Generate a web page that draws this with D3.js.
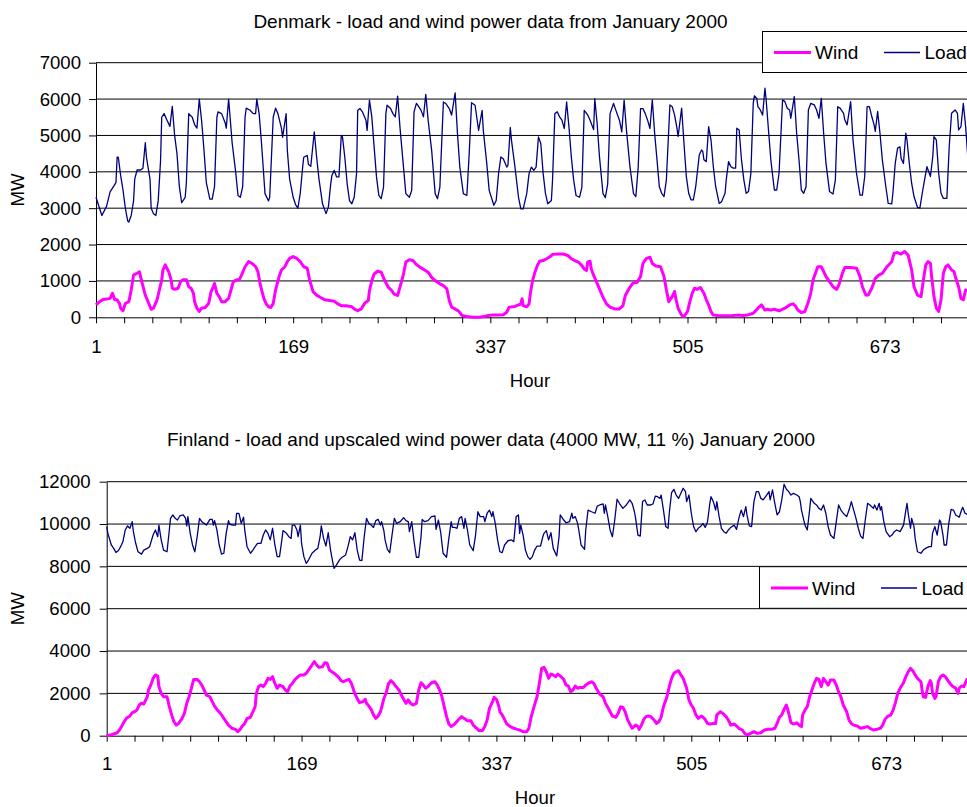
<!DOCTYPE html>
<html><head><meta charset="utf-8">
<script src="https://cdn.jsdelivr.net/npm/d3@7/dist/d3.min.js"></script>
<style>html,body{margin:0;padding:0;background:#fff;}svg{display:block;}</style>
</head><body><svg id="c" width="967" height="807"></svg>
<script>
const dkTitle = "Denmark - load and wind power data from January 2000";
const fiTitle = "Finland - load and upscaled wind power data (4000 MW, 11 %) January 2000";
const xTickLabels = [1, 169, 337, 505, 673];
const dkYTicks = [0,1000,2000,3000,4000,5000,6000,7000];
const fiYTicks = [0,2000,4000,6000,8000,10000,12000];
const seriesNames = ["Wind", "Load"];

const dkLoad = [[1,3300],[6,2800],[10,3050],[13,3450],[16,3600],[18,3700],[19,4400],[20,4400],[22,3900],[24,3500],[26,3000],[28,2650],[29,2620],[31,2800],[33,3200],[34,3800],[36,4050],[39,4050],[41,4100],[43,4800],[44,4400],[47,3800],[48,3000],[50,2850],[52,2800],[54,3200],[56,4300],[57,5500],[59,5600],[61,5450],[64,5250],[66,5800],[68,5000],[70,4500],[72,3600],[74,3150],[77,3300],[78,3700],[80,5600],[83,5500],[85,5300],[87,5200],[89,6000],[91,5400],[93,4600],[95,3700],[98,3250],[100,3250],[102,3600],[104,5500],[105,5650],[108,5600],[111,5350],[112,5200],[114,6000],[117,4800],[120,4000],[122,3350],[124,3300],[126,3600],[128,5500],[129,5750],[132,5700],[135,5600],[137,5600],[138,6000],[140,5600],[142,4800],[145,3400],[148,3200],[149,3300],[152,5500],[154,5750],[156,5600],[159,5200],[160,4950],[163,5600],[164,4600],[166,3800],[169,3300],[171,3100],[173,3000],[175,3400],[177,4100],[178,4400],[181,4450],[182,4200],[184,4150],[187,5100],[189,4400],[191,3800],
[194,3120],[197,2850],[199,3030],[201,3670],[202,3900],[204,4040],[206,3860],[208,3860],[210,5000],[211,4960],[213,4400],[215,3670],[217,3210],[219,3120],[221,3300],[223,3950],[224,5690],[226,5740],[228,5650],[231,5420],[232,5140],[234,5970],[236,5510],[238,4680],[240,3860],[242,3350],[244,3260],[246,3580],[248,5600],[249,5830],[252,5740],[254,5600],[256,5510],[258,6080],[260,5230],[263,4130],[265,3400],[268,3300],[270,3490],[272,5650],[274,5880],[276,5790],[278,5690],[280,5510],[282,6130],[284,5420],[287,4590],[290,3400],[292,3260],[294,3580],[297,5920],[299,5880],[302,5740],[304,5560],[307,6170],[309,5050],[311,4130],[314,3400],[317,3350],[319,4500],[321,5900],[324,5830],[326,5370],[327,5140],[330,5690],[331,5140],[334,4220],[336,3490],[340,3080],[342,3210],[344,3950],[346,4410],[348,4360],[351,4130],[352,4180],[354,5220],[355,4870],[358,4130],[361,3300],[363,2980],[365,2980],[368,3400],[370,3950],[372,4130],[374,4040],[376,4130],[378,4960],[380,4780],[382,3950],[384,3400],[386,3120],[389,3210],[390,3770],[392,5600],[394,5650],[396,5510],[398,5420],[400,5190],[402,5920],[404,5230],[406,4410],[408,3770],[410,3350],[413,3300],[415,3580],[417,5690],[418,5650],[420,5560],[422,5420],[425,5160],[426,6010],[428,5330],[430,4410],[433,3400],[435,3290],[437,3670],[439,5600],[442,5880],[444,5690],[447,5420],[449,5100],[451,5970],[453,5140],[456,4130],[459,3400],[461,3320],[463,4130],[465,5740],[467,5740],[469,5600],[471,5420],[473,5190],
[475,5980],[477,5060],[479,4330],[481,3590],[483,3410],[485,3320],[487,3780],[490,5840],[492,5790],[494,5560],[496,5200],[497,4970],[500,5750],[502,4780],[504,3870],[506,3410],[508,3230],[510,3230],[512,3590],[515,4460],[517,4600],[518,4560],[519,4330],[521,4280],[523,5240],[525,4880],[527,4140],[529,3590],[532,3130],[534,3180],[537,3410],[538,3780],[540,4280],[542,4140],[544,4100],[546,4100],[547,5200],[549,5150],[551,4330],[553,3780],[555,3410],[557,3460],[559,3960],[561,5880],[562,6090],[564,6020],[565,5790],[567,5700],[569,5560],[571,6300],[572,5980],[574,5150],[576,4330],[579,3500],[581,3500],[583,3960],[586,5980],[588,5930],[590,5750],[592,5700],[593,5470],[596,6070],[598,5060],[600,4330],[602,3500],[604,3410],[606,3590],[608,5700],[610,5880],[613,5840],[615,5700],[617,5470],[619,6020],[621,5060],[623,4230],[626,3460],[629,3390],[631,3780],[633,5790],[635,5750],[638,5610],[639,5430],[641,5290],[644,5930],[646,4880],[649,3960],[652,3360],[654,3360],[656,3870],[658,5790],[660,5790],[662,5520],[664,5290],[665,5110],[667,5660],[669,5060],[671,4330],[674,3590],[676,3130],[679,3120],[680,3410],[682,4230],[684,4650],[686,4690],[687,4370],[689,4230],[691,5060],[692,4880],[694,4230],[696,3680],[698,3320],[701,3020],[703,3000],[705,3410],[707,3780],[709,4140],[710,4050],[712,3870],[714,4420],[715,4970],[717,4880],[719,3960],[721,3410],[723,3270],[726,3270],[728,4690],[730,5610],[733,5700],[735,5610],[736,5150],[738,5240],[740,5880],[742,5240],[744,4330]];

const dkWind = [[1,340],[4,430],[7,490],[10,500],[13,520],[15,660],[17,480],[19,480],[21,380],[22,250],[24,180],[26,380],[29,430],[31,750],[33,1160],[36,1210],[38,1250],[40,980],[43,610],[46,380],[48,220],[50,250],[53,480],[55,750],[57,1030],[58,1300],[60,1440],[63,1250],[65,1030],[66,800],[68,770],[71,800],[73,980],[75,1030],[78,1030],[80,840],[82,800],[84,660],[85,430],[87,250],[89,160],[91,250],[94,270],[97,380],[99,700],[101,840],[102,930],[104,660],[106,570],[108,430],[111,430],[114,520],[116,750],[118,980],[121,1030],[123,1030],[125,1160],[128,1390],[131,1530],[134,1480],[137,1390],[139,1250],[141,890],[144,520],[146,370],[148,290],[150,270],[152,380],[154,750],[157,1120],[159,1300],[162,1390],[164,1530],[166,1620],[169,1670],[172,1620],[175,1530],[178,1390],[181,1350],[183,1030],[186,700],[189,610],[192,550],
[196,480],[200,460],[204,440],[207,370],[210,320],[214,320],[219,290],[221,230],[224,180],[227,230],[230,390],[233,460],[234,730],[236,1010],[238,1190],[241,1270],[244,1240],[247,1010],[250,830],[253,730],[255,640],[258,600],[260,830],[263,1190],[265,1520],[268,1580],[271,1560],[274,1450],[277,1380],[281,1300],[284,1240],[287,1100],[290,1010],[294,920],[297,870],[300,780],[302,460],[304,280],[307,230],[310,170],[313,50],[317,20],[322,0],[328,0],[334,40],[338,60],[342,60],[348,70],[351,140],[353,280],[358,300],[361,340],[363,370],[364,510],[365,320],[368,290],[370,370],[371,640],[373,1010],[375,1240],[377,1420],[379,1540],[382,1560],[385,1610],[388,1670],[390,1730],[395,1740],[399,1740],[403,1700],[406,1610],[409,1560],[412,1520],[415,1420],[417,1330],[419,1290],[420,1520],[422,1540],[423,1330],[425,1150],[427,1010],[430,780],[433,550],[436,370],[439,280],[443,230],[447,230],[450,320],[452,600],[455,780],[458,920],[460,960],[462,960],
[465,1120],[467,1480],[470,1620],[473,1650],[475,1480],[478,1410],[482,1390],[485,1120],[487,750],[489,430],[492,570],[494,710],[495,520],[497,250],[500,60],[502,20],[505,160],[507,430],[509,660],[511,800],[513,770],[516,820],[519,660],[521,480],[523,340],[525,160],[527,60],[531,50],[537,40],[542,40],[548,60],[552,50],[556,60],[561,110],[565,250],[568,340],[571,200],[573,220],[576,200],[579,220],[583,180],[588,250],[592,340],[595,370],[597,310],[599,200],[602,130],[605,160],[608,430],[610,660],[612,1030],[614,1210],[616,1390],[619,1390],[621,1260],[623,1120],[626,980],[629,840],[632,770],[634,890],[637,1210],[639,1370],[644,1370],[649,1350],[652,1120],[654,840],[657,610],[659,610],[662,800],[665,1070],[668,1160],[671,1210],[675,1390],[679,1530],[681,1760],[684,1780],[687,1740],[690,1810],[693,1710],[696,1300],[698,840],[701,610],[704,570],[706,1030],[708,1440],[710,1530],[712,1480],[713,1120],[715,570],[717,250],[719,160],[721,480],[723,1210],[725,1390],[727,1440],[730,1300],[732,1260],[734,1030],[736,840],[738,520],[740,480],[742,750],[744,730]];

const fiLoad = [[1,9880],[2,9560],[5,9010],[7,8850],[9,8660],[11,8740],[13,8930],[15,9170],[17,9720],[19,9910],[21,9800],[23,10110],[24,9640],[26,9090],[28,8690],[31,8580],[33,8770],[36,8850],[38,8930],[41,9480],[43,9720],[45,9400],[46,9950],[48,9250],[50,8770],[53,8690],[55,9720],[56,10270],[58,10430],[60,10270],[62,10190],[64,10380],[67,10430],[69,10270],[70,9910],[71,10350],[73,9560],[75,9010],[77,8690],[79,9400],[81,10270],[83,10110],[85,10030],[87,9950],[90,10220],[92,10220],[93,9950],[94,10160],[96,9720],[98,9010],[100,8580],[102,8620],[104,9560],[106,10160],[107,9990],[110,9950],[112,9950],[113,10500],[115,10500],[117,10030],[119,10320],[120,9720],[122,8930],[125,8620],[127,8770],[129,8930],[131,9090],[134,9090],[136,9480],[138,9720],[140,9560],[142,9250],[144,9800],[146,9010],[148,8460],[150,8460],[152,9250],[153,9690],[156,9560],[158,9400],[160,9320],[161,9950],[163,9950],[165,9720],[166,9400],[168,9950],[169,9090],[171,8460],[173,8140],[175,8300],[178,8620],[181,8770],[183,8850],[185,9400],[186,9910],[188,9320],[190,8960],[192,9590],
[194,8770],[196,8170],[197,7910],[199,8060],[202,8330],[204,8430],[207,8540],[209,8930],[211,9400],[213,9250],[215,9590],[217,8770],[219,8300],[221,8270],[223,9400],[225,10270],[227,10030],[229,9950],[231,9840],[233,10160],[235,10220],[237,9950],[238,10110],[240,9670],[241,9250],[243,8800],[245,8650],[247,9480],[249,10270],[251,10030],[254,10110],[257,10300],[259,10160],[261,10110],[262,9640],[264,10110],[266,9170],[268,8430],[270,8430],[272,9400],[273,10220],[275,10110],[278,10160],[281,10350],[284,10380],[285,9750],[287,10190],[289,9590],[291,8620],[294,8430],[296,9320],[298,10110],[299,9840],[301,9840],[303,9800],[305,10270],[307,10350],[309,9800],[310,10270],[312,9720],[314,9010],[317,8740],[319,9480],[321,10580],[323,10350],[326,10350],[327,10110],[329,10510],[331,10660],[333,10350],[334,10580],[336,10030],[338,9250],[340,8690],[342,8650],[344,9010],[347,9210],[350,9250],[352,9170],[354,10350],[356,10430],[357,9560],[358,9950],[360,9480],[362,8770],[364,8460],[366,8330],[368,8460],[370,8770],[372,8960],[375,8960],[377,9400],[378,9560],[380,9690],[382,9250],[384,9590],[386,8850],[389,8490],[391,9400],[392,10430],[395,10190],[397,10060],[400,10110],[402,10510],[403,10270],[405,10350],[407,10030],[408,9720],[410,9010],[413,8800],[414,9720],[416,10660],[419,10580],[422,10510],[424,10850],[426,10900],[429,10950],[430,10510],[431,10900],[433,10350],[435,9720],[437,9400],[439,10190],[441,11170],[443,10980],[446,10740],[449,10900],[452,11140],[454,10980],[456,10580],[457,10270],[459,9480],[461,9430],
[463,11060],[465,11140],[467,10900],[470,10900],[472,10950],[474,11320],[476,11290],[478,11210],[479,11370],[481,10660],[483,9880],[485,9800],[486,10510],[488,11480],[490,11640],[492,11370],[494,11210],[496,11450],[498,11690],[500,11530],[501,11060],[503,11370],[505,10510],[507,9880],[509,9640],[511,9800],[513,9880],[515,10030],[517,9840],[519,10110],[521,10980],[522,11290],[524,11060],[526,10660],[527,11060],[529,10350],[531,9800],[533,9640],[535,9560],[537,9720],[539,9840],[542,9950],[544,9750],[546,10270],[548,10660],[550,10350],[552,10820],[553,10430],[555,9910],[557,9880],[559,11060],[561,11530],[563,11530],[565,11210],[567,11140],[570,11370],[572,11530],[573,11140],[575,11610],[577,10980],[579,10430],[581,10580],[583,11140],[585,11880],[587,11640],[589,11530],[591,11370],[593,11450],[596,11370],[598,11290],[599,11060],[600,10660],[603,9950],[605,9720],[607,10660],[608,11210],[611,10980],[613,10900],[615,10740],[617,10660],[619,10900],[621,10510],[623,9880],[625,9480],[628,9320],[630,10110],[632,10900],[634,10660],[636,10510],[639,10350],[641,10660],[643,11060],[645,10660],[647,10270],[649,9800],[651,9430],[653,9320],[655,10190],[657,10980],[659,10900],[662,10740],[663,10900],[665,10660],[667,10980],[668,10660],[669,10820],[671,10110],[673,9640],[676,9400],[678,9480],[680,9640],[682,9720],[685,9640],[688,9950],[690,10660],[691,10980],[692,10510],[694,9800],[695,10270],[697,9880],[698,9320],[700,8690],[703,8620],[705,8770],[707,8850],[710,8930],[712,8930],[713,9560],[715,9880],[717,9480],[719,10190],[720,10110],[722,9480],[723,9010],[725,9010],[727,10030],[729,10690],[731,10660],[733,10430],[736,10320],[738,10660],[739,10790],[741,10510],[744,10430]];

const fiWind = [[1,0],[4,30],[7,80],[10,140],[12,270],[14,460],[16,660],[18,820],[21,930],[23,1090],[25,1130],[27,1210],[29,1450],[31,1530],[33,1500],[36,1840],[37,2160],[39,2390],[41,2710],[43,2870],[45,2820],[46,2320],[48,2000],[50,1840],[53,1840],[55,1370],[57,980],[59,660],[61,500],[63,580],[66,820],[68,1060],[70,1530],[72,1840],[74,2240],[76,2660],[79,2660],[81,2550],[83,2390],[85,2160],[87,1920],[90,1840],[92,1610],[94,1400],[96,1240],[99,1060],[101,900],[103,740],[106,500],[109,350],[112,300],[114,190],[116,300],[118,460],[120,580],[122,820],[125,870],[127,1130],[129,1370],[130,2000],[132,2320],[134,2390],[136,2320],[138,2470],[140,2710],[142,2660],[144,2790],[146,2470],[148,2240],[150,2390],[153,2320],[155,2160],[157,2080],[159,2350],[161,2470],[163,2630],[166,2790],[168,2870],[171,2870],[173,2950],[176,3180],[178,3340],[180,3500],[182,3340],[184,3230],[187,3260],[189,3450],[191,3420],[193,3100],
[195,3020],[198,2910],[201,2760],[203,2600],[205,2550],[207,2600],[210,2660],[212,2470],[215,1970],[217,1760],[219,1560],[222,1610],[224,1720],[225,1530],[227,1400],[229,1240],[231,980],[233,820],[235,930],[237,1130],[240,1760],[242,2030],[244,2470],[246,2600],[248,2500],[250,2350],[253,2160],[255,1920],[257,1720],[259,1530],[261,1690],[263,1530],[265,1450],[268,1530],[270,2160],[272,2500],[274,2390],[276,2240],[278,2320],[281,2500],[284,2550],[286,2390],[288,2160],[290,1840],[292,1370],[294,900],[296,550],[298,430],[301,550],[304,740],[307,900],[309,820],[312,710],[315,710],[317,500],[320,350],[322,240],[325,240],[327,430],[329,740],[331,1290],[334,1650],[335,1810],[337,1720],[339,1400],[340,1130],[342,980],[344,770],[346,550],[349,430],[352,350],[355,300],[357,270],[360,190],[363,190],[365,350],[367,900],[369,1290],[372,1840],[374,2470],[376,3180],[378,3230],[380,3020],[382,2710],[384,2910],[386,2870],[388,2790],[390,2910],[392,2820],[395,2660],[397,2390],[399,2350],[401,2080],[403,2160],[405,2350],[407,2240],[409,2280],[412,2280],[414,2390],[416,2470],[419,2550],[421,2470],[423,2240],[426,1970],[429,1840],[431,1530],[433,1340],[435,1130],[437,930],[440,870],[442,1060],[444,1370],[446,1340],[448,1130],[450,770],[452,550],[454,350],[457,500],[459,430],[460,300],[462,500],[464,770],[466,900],
[468,930],[470,900],[473,740],[475,580],[477,660],[479,870],[481,1370],[484,1840],[486,2320],[488,2710],[490,2950],[492,3020],[494,3070],[496,2870],[498,2710],[501,2240],[503,1690],[505,1450],[507,1290],[509,980],[511,820],[514,930],[517,770],[519,580],[521,550],[524,580],[526,580],[527,980],[530,1130],[532,1060],[535,900],[537,740],[539,500],[542,550],[544,460],[546,350],[549,270],[551,110],[553,30],[556,110],[559,190],[562,110],[565,140],[568,270],[571,300],[574,300],[577,350],[579,580],[581,870],[583,980],[585,1240],[587,1450],[589,1060],[591,610],[593,550],[596,610],[598,500],[600,430],[601,980],[603,1210],[605,1370],[607,1840],[609,2160],[611,2470],[613,2710],[615,2660],[617,2320],[619,2710],[621,2550],[623,2390],[625,2630],[628,2630],[630,2390],[632,2080],[634,1840],[636,1450],[639,1130],[641,740],[643,580],[645,500],[648,460],[651,350],[654,390],[657,430],[659,350],[662,270],[665,300],[668,350],[670,500],[672,770],[674,900],[677,980],[679,1210],[681,1560],[683,2000],[685,2240],[688,2500],[690,2790],[692,3020],[694,3180],[696,3070],[698,2870],[700,2710],[703,2550],[704,2160],[705,1840],[707,1810],[709,2320],[711,2600],[712,2470],[713,2000],[715,1760],[716,1840],[718,2550],[720,2790],[722,2870],[724,2790],[726,2630],[728,2470],[730,2350],[733,2240],[735,2000],[736,2240],[738,2350],[740,2320],[743,2710]];

const FONT = "'Liberation Sans', Arial, Helvetica, sans-serif";
const FS = 19;
const FS_TICK = 18.6;
const svg = d3.select("#c").style("font-family", FONT);
svg.append("rect").attr("width",967).attr("height",807).attr("fill","#fff");

function panel(cfg) {
  const x = d3.scaleLinear().domain([1, 744]).range([cfg.left, cfg.right]);
  const y = d3.scaleLinear().domain([0, cfg.yMax]).range([cfg.bottom, cfg.top]);
  const g = svg.append("g");

  // gridlines
  g.selectAll("line.grid").data(cfg.yTicks.filter(v => v > 0)).join("line")
    .attr("x1", cfg.left).attr("x2", 968)
    .attr("y1", d => y(d)).attr("y2", d => y(d))
    .attr("stroke", "#000").attr("stroke-width", 1);

  // y axis
  const yAxis = d3.axisLeft(y).tickValues(cfg.yTicks).tickSize(7).tickSizeOuter(0).tickFormat(d3.format("d"));
  const ya = g.append("g").attr("transform", `translate(${cfg.left},0)`).call(yAxis);
  ya.select(".domain").attr("stroke", "#000");
  ya.selectAll(".tick line").attr("stroke", "#000");
  ya.selectAll(".tick text").attr("font-size", FS_TICK).attr("font-family", FONT).attr("fill", "#000").attr("x", cfg.yLabelOff);

  // x axis
  const ticks24 = d3.range(1, 745, 24);
  const xAxis = d3.axisBottom(x).tickValues(ticks24).tickSize(6).tickSizeOuter(0)
    .tickFormat(d => xTickLabels.includes(d) ? String(d) : "");
  const xa = g.append("g").attr("transform", `translate(0,${cfg.bottom})`).call(xAxis);
  xa.select(".domain").attr("stroke", "#000").attr("d", `M${cfg.left},0.5H968`);
  xa.selectAll(".tick line").attr("stroke", "#000");
  xa.selectAll(".tick text").attr("font-size", FS_TICK).attr("font-family", FONT).attr("fill", "#000")
    .attr("dy", null).attr("y", cfg.xLabelBase - cfg.bottom);

  // lines
  const line = d3.line().x(d => x(d[0])).y(d => y(d[1]));
  g.append("path").datum(cfg.wind).attr("d", line).attr("fill", "none")
    .attr("stroke", "#FF00FF").attr("stroke-width", 3).attr("stroke-linejoin", "round");
  g.append("path").datum(cfg.load).attr("d", line).attr("fill", "none")
    .attr("stroke", "#000080").attr("stroke-width", 1.3).attr("stroke-linejoin", "round");

  // titles
  g.append("text").attr("x", cfg.titleX).attr("y", cfg.titleY).attr("text-anchor", "middle")
    .attr("font-size", FS).text(cfg.title);
  g.append("text").attr("x", cfg.hourX).attr("y", cfg.hourY).attr("text-anchor", "middle")
    .attr("font-size", FS_TICK).text("Hour");
  g.append("text").attr("transform", `translate(${cfg.mwX},${(cfg.top + cfg.bottom) / 2}) rotate(-90)`)
    .attr("text-anchor", "middle").attr("dy", "0.35em").attr("font-size", FS_TICK).text("MW");

  // legend
  const L = cfg.legend;
  const lg = g.append("g");
  lg.append("rect").attr("x", L.x).attr("y", L.y).attr("width", 260).attr("height", L.h)
    .attr("fill", "#fff").attr("stroke", "#000").attr("stroke-width", 1);
  const cy = L.y + L.h / 2 + 0.5;
  lg.append("line").attr("x1", L.x + 11.5).attr("x2", L.x + 48.5).attr("y1", cy).attr("y2", cy)
    .attr("stroke", "#FF00FF").attr("stroke-width", 3);
  lg.append("text").attr("x", L.x + 52.5).attr("y", cy).attr("dy", "0.36em").attr("font-size", FS).text(seriesNames[0]);
  lg.append("line").attr("x1", L.x + 121.5).attr("x2", L.x + 157.5).attr("y1", cy).attr("y2", cy)
    .attr("stroke", "#000080").attr("stroke-width", 1.3);
  lg.append("text").attr("x", L.x + 162).attr("y", cy).attr("dy", "0.36em").attr("font-size", FS).text(seriesNames[1]);
}

panel({
  left: 96, right: 968, top: 62.7, bottom: 317.3, yMax: 7000, yTicks: dkYTicks,
  load: dkLoad, wind: dkWind, title: dkTitle, titleX: 490.5, titleY: 28.3,
  hourX: 530, hourY: 386.7, mwX: 17.5, xLabelBase: 352.7, yLabelOff: -15,
  legend: { x: 762.5, y: 31.5, h: 41 }
});
panel({
  left: 106.7, right: 968.5, top: 481.7, bottom: 735.7, yMax: 12000, yTicks: fiYTicks,
  load: fiLoad, wind: fiWind, title: fiTitle, titleX: 491, titleY: 446,
  hourX: 535, hourY: 804, mwX: 17.5, xLabelBase: 770, yLabelOff: -16,
  legend: { x: 759.5, y: 566.7, h: 41.6 }
});
</script></body></html>
